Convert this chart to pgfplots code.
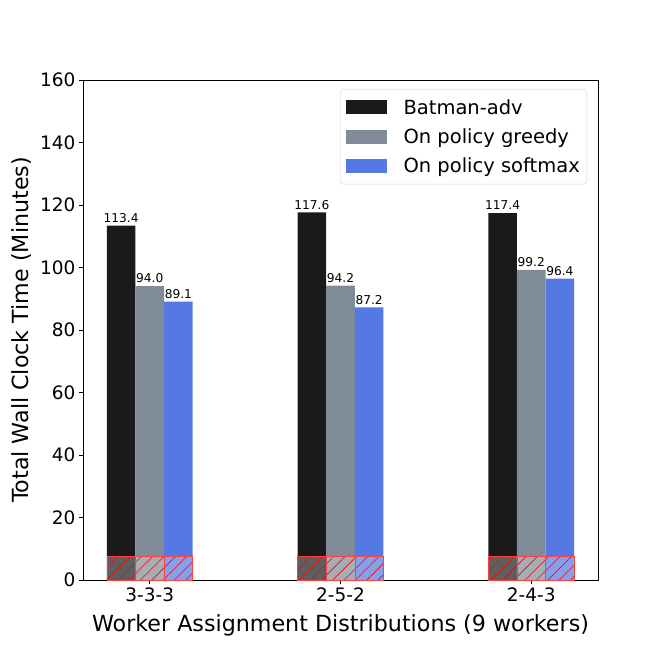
\documentclass[border=0pt]{standalone}
\usepackage{pgfplots}
\pgfplotsset{compat=1.18}
\usepackage{fontspec}
\setmainfont{DejaVu Sans}
\usetikzlibrary{patterns.meta}
\definecolor{cblack}{HTML}{1A1A1A}
\definecolor{cgrey}{HTML}{7F8B97}
\definecolor{cblue}{HTML}{5478E4}
\pgfplotsset{
  barlabel/.style={nodes near coords={\pgfmathprintnumber[fixed,fixed zerofill,precision=1]{\pgfplotspointmeta}},
    every node near coord/.append style={font=\fontsize{12.2}{14}\selectfont, black, xshift=#1, inner sep=2pt, yshift=1pt}},
  hatch/.style={ybar, bar width=0.15, bar shift=#1, fill=white, fill opacity=0.3, draw=red!75, line width=0.6pt, forget plot,
    postaction={fill opacity=0.6, pattern={Lines[angle=45,distance=8pt,line width=0.6pt]}, pattern color=red}},
}
\begin{document}
\begin{tikzpicture}
\useasboundingbox (-83pt,-84pt) rectangle (581pt,580pt);
\begin{axis}[
  at={(0,0)}, anchor=south west,
  scale only axis, width=515pt, height=500pt,
  xmin=-0.35, xmax=2.35, ymin=0, ymax=160,
  xtick={0,1,2}, xticklabels={3-3-3,2-5-2,2-4-3},
  ytick={0,20,...,160},
  tick align=outside, tick pos=left,
  major tick length=4pt,
  tick style={black, line width=0.7pt},
  axis line style={line width=0.7pt},
  ticklabel style={font=\fontsize{18.5}{21}\selectfont},
  /pgf/number format/assume math mode=true,
  xlabel={Worker Assignment Distributions (9 workers)},
  ylabel={Total Wall Clock Time (Minutes)},
  label style={font=\fontsize{22.2}{25}\selectfont},
  xlabel style={yshift=-6pt},
  ylabel style={yshift=2pt},
  legend cell align=left,
  legend style={at={(1,1)}, anchor=north east, xshift=-11pt, yshift=-9pt,
    draw=black!18, rounded corners=3pt, inner xsep=5pt, inner ysep=8pt,
    font=\fontsize{19.5}{22}\selectfont, row sep=9pt, column sep=15pt},
  legend image code/.code={\fill[#1, sharp corners] (0pt,-7pt) rectangle (41pt,7pt);},
]
\addplot[ybar, bar width=0.15, bar shift=-0.15, fill=cblack, draw=none, barlabel=-28.6pt] coordinates {(0,113.4)(1,117.6)(2,117.4)};
\addlegendentry{Batman-adv}
\addplot[ybar, bar width=0.15, bar shift=0, fill=cgrey, draw=none, barlabel=0pt] coordinates {(0,94.0)(1,94.2)(2,99.2)};
\addlegendentry{On policy greedy}
\addplot[ybar, bar width=0.15, bar shift=0.15, fill=cblue, draw=none, barlabel=28.6pt] coordinates {(0,89.1)(1,87.2)(2,96.4)};
\addlegendentry{On policy softmax}
\addplot[hatch=-0.15] coordinates {(0,7.5)(1,7.5)(2,7.5)};
\addplot[hatch=0] coordinates {(0,7.5)(1,7.5)(2,7.5)};
\addplot[hatch=0.15] coordinates {(0,7.5)(1,7.5)(2,7.5)};
\end{axis}
\end{tikzpicture}
\end{document}
